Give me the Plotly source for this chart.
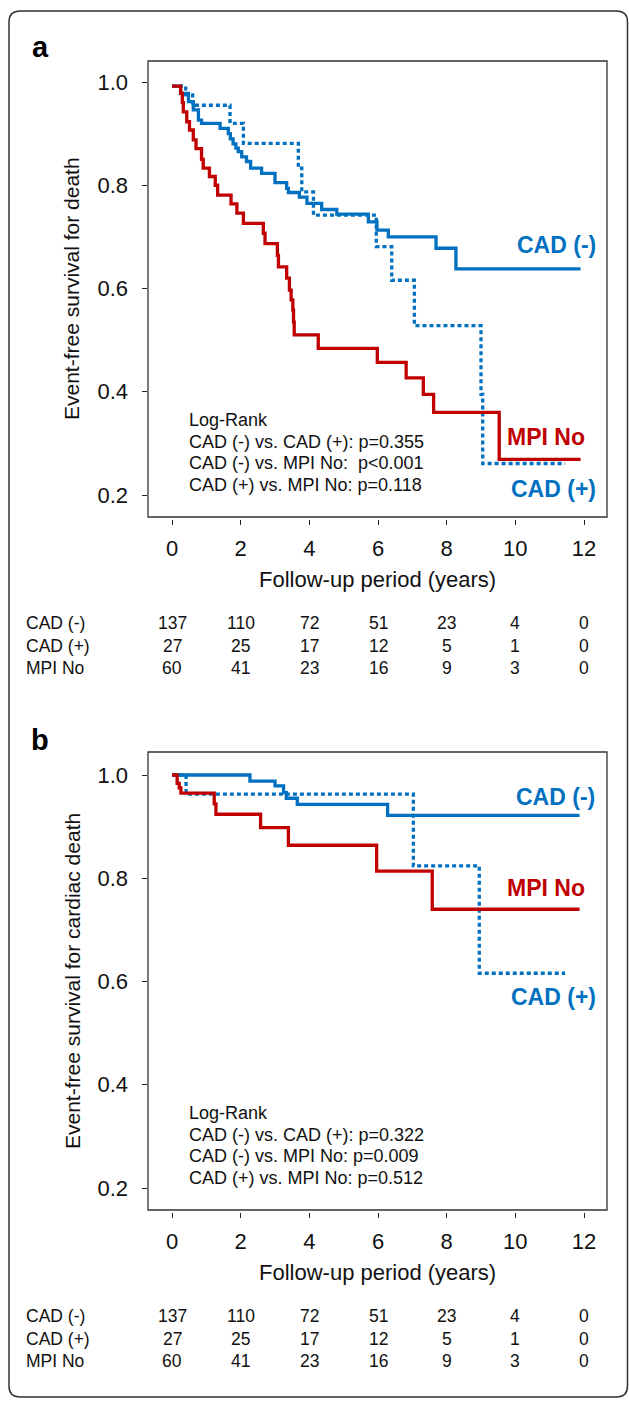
import plotly.graph_objects as go

W, H = 629, 1402
def xp(px): return px / W
def yp(py): return 1 - py / H

# ---------------- data ----------------
# Panel a: all-cause death
a_cadneg_t = [0, 0.25, 0.48, 0.62, 0.77, 0.86, 1.40, 1.64, 1.70, 1.78, 1.86, 1.93, 2.03, 2.17, 2.29, 2.61, 3.00, 3.34, 3.39, 3.71, 3.93, 4.36, 4.80, 5.72, 5.97, 6.30, 7.69, 8.27, 11.9]
a_cadneg_s = [0.992, 0.978, 0.962, 0.946, 0.926, 0.920, 0.910, 0.900, 0.890, 0.880, 0.872, 0.865, 0.855, 0.846, 0.833, 0.823, 0.805, 0.794, 0.786, 0.777, 0.765, 0.753, 0.744, 0.729, 0.713, 0.700, 0.678, 0.638, 0.638]

a_cadpos_t = [0, 0.40, 0.60, 1.69, 2.08, 3.68, 3.78, 4.12, 5.95, 6.40, 7.06, 9.00, 9.05, 11.45]
a_cadpos_s = [0.992, 0.975, 0.955, 0.920, 0.881, 0.833, 0.787, 0.742, 0.681, 0.616, 0.528, 0.395, 0.261, 0.261]

a_mpino_t = [0, 0.25, 0.30, 0.33, 0.43, 0.51, 0.62, 0.70, 0.86, 0.91, 1.09, 1.26, 1.33, 1.72, 1.89, 2.08, 2.66, 2.71, 3.07, 3.10, 3.34, 3.42, 3.47, 3.52, 3.54, 3.56, 4.26, 5.98, 6.82, 7.32, 7.62, 9.53, 11.9]
a_mpino_s = [0.992, 0.978, 0.960, 0.942, 0.923, 0.907, 0.888, 0.871, 0.850, 0.833, 0.817, 0.800, 0.781, 0.764, 0.746, 0.726, 0.707, 0.687, 0.664, 0.642, 0.620, 0.597, 0.578, 0.558, 0.535, 0.510, 0.484, 0.457, 0.427, 0.395, 0.360, 0.269, 0.269]

# Panel b: cardiac death
b_cadneg_t = [0, 2.27, 3.00, 3.25, 3.33, 3.65, 6.28, 11.87]
b_cadneg_s = [1.0, 0.988, 0.979, 0.966, 0.955, 0.943, 0.922, 0.922]

b_cadpos_t = [0, 0.41, 7.03, 8.95, 11.45]
b_cadpos_s = [1.0, 0.963, 0.824, 0.616, 0.616]

b_mpino_t = [0, 0.15, 0.21, 0.26, 1.23, 1.28, 2.58, 3.39, 5.96, 7.58, 11.87]
b_mpino_s = [1.0, 0.984, 0.975, 0.965, 0.944, 0.924, 0.898, 0.864, 0.814, 0.740, 0.740]

x_ticks = [0, 2, 4, 6, 8, 10, 12]
y_ticks = [0.2, 0.4, 0.6, 0.8, 1.0]

group_names = ["CAD (-)", "CAD (+)", "MPI No"]
risk_cadneg = [137, 110, 72, 51, 23, 4, 0]
risk_cadpos = [27, 25, 17, 12, 5, 1, 0]
risk_mpino = [60, 41, 23, 16, 9, 3, 0]

a_logrank = ["Log-Rank",
             "CAD (-) vs. CAD (+): p=0.355",
             "CAD (-) vs. MPI No:  p<0.001",
             "CAD (+) vs. MPI No: p=0.118"]
b_logrank = ["Log-Rank",
             "CAD (-) vs. CAD (+): p=0.322",
             "CAD (-) vs. MPI No: p=0.009",
             "CAD (+) vs. MPI No: p=0.512"]

# ---------------- style ----------------
BLUE = "#0070C0"
RED = "#C00000"
FONT = "Liberation Sans, Arial, Helvetica, sans-serif"
LW = 3.3

fig = go.Figure()

def add_curves(xa, ya, cn, cp, mn):
    fig.add_trace(go.Scatter(x=cn[0], y=cn[1], mode="lines", line=dict(shape="hv", color=BLUE, width=LW), xaxis=xa, yaxis=ya))
    fig.add_trace(go.Scatter(x=cp[0], y=cp[1], mode="lines", line=dict(shape="hv", color=BLUE, width=LW, dash="4px,3px"), xaxis=xa, yaxis=ya))
    fig.add_trace(go.Scatter(x=mn[0], y=mn[1], mode="lines", line=dict(shape="hv", color=RED, width=LW), xaxis=xa, yaxis=ya))

add_curves("x", "y", (a_cadneg_t, a_cadneg_s), (a_cadpos_t, a_cadpos_s), (a_mpino_t, a_mpino_s))
add_curves("x2", "y2", (b_cadneg_t, b_cadneg_s), (b_cadpos_t, b_cadpos_s), (b_mpino_t, b_mpino_s))

XL, XR = 148, 607
panels = [
    dict(top=61, bot=517, yr=[0.1574, 1.0407], shift=0),
    dict(top=752, bot=1210, yr=[0.1574, 1.0446], shift=693),
]

xr = [-0.699, 12.67]
axis_common = dict(showgrid=False, zeroline=False, showline=False, ticks="outside",
                   ticklen=5, tickwidth=1.2, tickcolor="#222",
                   tickfont=dict(family=FONT, size=22, color="#111"))

layout_axes = {}
for i, p in enumerate(panels):
    sfx = "" if i == 0 else "2"
    layout_axes["xaxis" + sfx] = dict(axis_common, domain=[xp(XL), xp(XR)], range=xr,
                                      tickvals=x_ticks, ticktext=[str(v) for v in x_ticks],
                                      anchor="free", position=yp(p["bot"] + 2), ticklabelstandoff=5)
    layout_axes["yaxis" + sfx] = dict(axis_common, domain=[yp(p["bot"]), yp(p["top"])], range=p["yr"],
                                      tickvals=y_ticks, ticktext=["%.1f" % v for v in y_ticks],
                                      anchor="free", position=xp(XL - 1.5), ticklabelstandoff=9)

fig.update_layout(width=W, height=H, margin=dict(l=0, r=0, t=0, b=0),
                  paper_bgcolor="white", plot_bgcolor="white", showlegend=False,
                  font=dict(family=FONT, color="#111"), **layout_axes)

shapes = []
# outer rounded frame
x0, x1, yt, yb = xp(9), xp(627.5), yp(11), yp(1397)
rx, ry = 11 / W, 11 / H
path = (f"M {x0+rx},{yt} L {x1-rx},{yt} Q {x1},{yt} {x1},{yt-ry} L {x1},{yb+ry} "
        f"Q {x1},{yb} {x1-rx},{yb} L {x0+rx},{yb} Q {x0},{yb} {x0},{yb+ry} "
        f"L {x0},{yt-ry} Q {x0},{yt} {x0+rx},{yt} Z")
shapes.append(dict(type="path", path=path, xref="paper", yref="paper", line=dict(color="#333", width=1.5)))
for sfx in ["", "2"]:
    shapes.append(dict(type="rect", xref=("x" + sfx + " domain"), yref=("y" + sfx + " domain"),
                       x0=0, x1=1, y0=0, y1=1, line=dict(color="#333", width=1.3)))
fig.update_layout(shapes=shapes)

ann = []
def T(text, x, y, size, xref="paper", yref="paper", color="#111", bold=False, xanchor="center", angle=0):
    ann.append(dict(text=("<b>%s</b>" % text) if bold else text, x=x, y=y, xref=xref, yref=yref,
                    showarrow=False, xanchor=xanchor, yanchor="middle", textangle=angle,
                    font=dict(family=FONT, size=size, color=color)))

ytitles = ["Event-free survival for death", "Event-free survival for cardiac death"]
letters = ["a", "b"]
logranks = [a_logrank, b_logrank]
curve_labels = [
    [("CAD (-)", 556, 245, BLUE), ("MPI No", 546, 437, RED), ("CAD (+)", 553, 489, BLUE)],
    [("CAD (-)", 555, 797, BLUE), ("MPI No", 546, 888, RED), ("CAD (+)", 553, 997, BLUE)],
]
for i, p in enumerate(panels):
    s = p["shift"]
    sfx = "" if i == 0 else "2"
    T(letters[i], xp(40), yp(47 + s), 29, bold=True, color="#000")
    T(ytitles[i], xp(72), yp((p["top"] + p["bot"]) / 2), 21, angle=-90)
    T("Follow-up period (years)", xp((XL + XR) / 2), yp(579 + s), 22)
    for j, line in enumerate(logranks[i]):
        T(line, xp(187), yp(420 + s + j * 21.7), 18, xanchor="left")
    for (txt, px, py, col) in curve_labels[i]:
        T(txt, xp(px), yp(py), 23, bold=True, color=col)
    rows = [risk_cadneg, risk_cadpos, risk_mpino]
    for r, (name, vals) in enumerate(zip(group_names, rows)):
        yy = yp(623 + s + r * 22.7)
        T(name, xp(24), yy, 17.5, xanchor="left")
        for xv, v in zip(x_ticks, vals):
            T(str(v), xv, yy, 17.5, xref="x" + sfx)

fig.update_layout(annotations=ann)
fig.write_html("out.html", config={"displayModeBar": False},
               post_script="document.body.style.margin='0';document.body.style.overflow='hidden';")
